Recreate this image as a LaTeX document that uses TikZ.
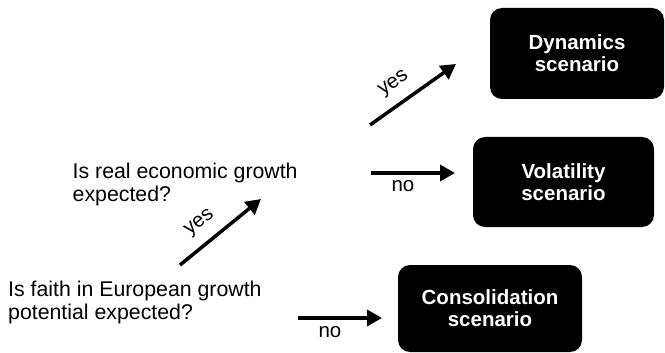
\documentclass[tikz,border=0pt]{standalone}
\usepackage{fontspec}
\setmainfont{Liberation Sans}
\usetikzlibrary{arrows.meta}
\begin{document}
\begin{tikzpicture}[x=1pt,y=-1pt,
  scenbox/.style={fill=black,rounded corners=12pt,text=white,
    font=\fontsize{20.5}{22}\selectfont\bfseries,align=center,inner sep=0pt},
  question/.style={font=\fontsize{21.3}{23.5}\selectfont,align=left,inner sep=0pt,anchor=base west},
  lbl/.style={font=\fontsize{20.5}{23}\selectfont,inner sep=0pt},
  arr/.style={line width=3.5pt,-{Triangle[length=15pt,width=16pt]}}]
\useasboundingbox (0,0) rectangle (665,353);
% boxes
\node[scenbox,minimum width=174pt,minimum height=91pt] (dyn) at (577,53.5) {Dynamics\\scenario};
\node[scenbox,minimum width=181pt,minimum height=90pt] (vol) at (563.5,182) {Volatility\\scenario};
\node[scenbox,minimum width=184pt,minimum height=87pt] (con) at (490,308.5) {Consolidation\\scenario};
% questions (anchor on the last line's baseline)
\node[question] (q1) at (72.5,201.5) {Is real economic growth\\expected?};
\node[question] (q2) at (8,319.5) {Is faith in European growth\\potential expected?};
% arrow endpoints
\coordinate (a1s) at (370,125); \coordinate (a1e) at (456,64);
\coordinate (a2s) at (371,173); \coordinate (a2e) at (455,173);
\coordinate (a3s) at (180,265); \coordinate (a3e) at (261,199);
\coordinate (a4s) at (298,318); \coordinate (a4e) at (382,318);
\draw[arr] (a1s) -- (a1e);
\draw[arr] (a2s) -- (a2e);
\draw[arr] (a3s) -- (a3e);
\draw[arr] (a4s) -- (a4e);
% labels
\node[lbl,rotate=35] (y1) at (394,84) {yes};
\node[lbl] (n1) at (403,186) {no};
\node[lbl,rotate=39] (y2) at (200,223) {yes};
\node[lbl] (n2) at (330,332) {no};
\end{tikzpicture}
\end{document}
